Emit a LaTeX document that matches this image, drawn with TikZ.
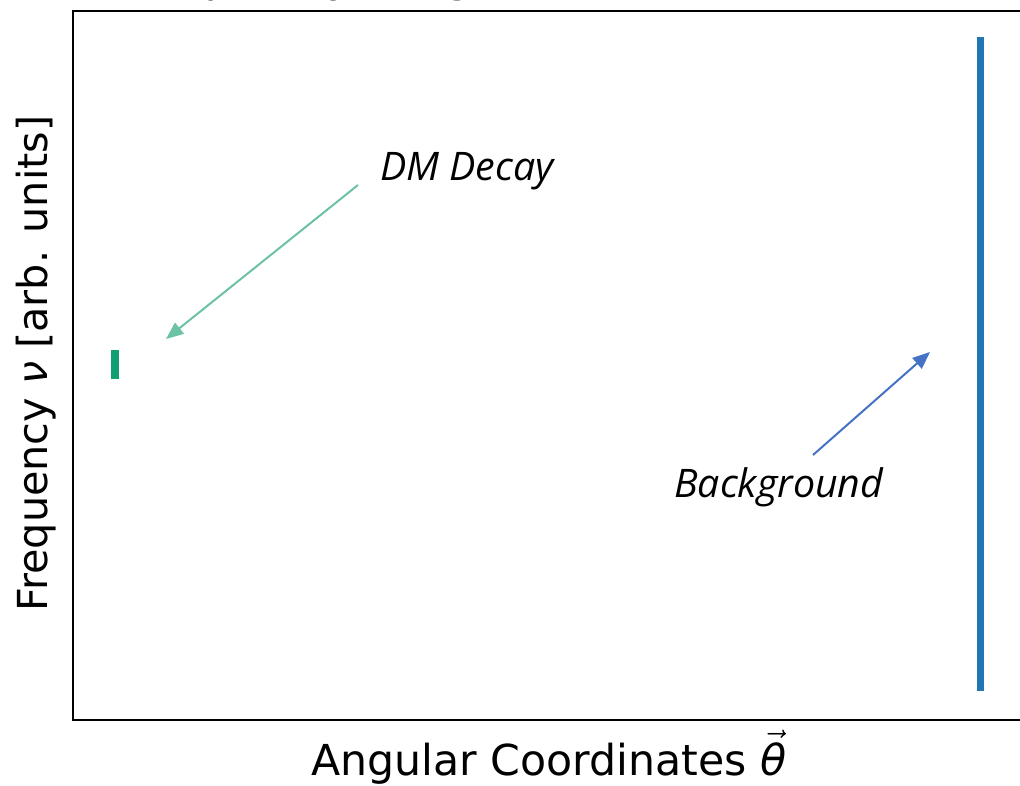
\RequirePackage{fix-cm}
\documentclass[tikz,border=0pt]{standalone}
\usepackage[no-math]{fontspec}
\setmainfont{DejaVu Sans}
\newfontfamily\notefont{Open Sans}
\usetikzlibrary{arrows.meta}

\definecolor{bgblue}{RGB}{31,119,180}
\definecolor{dmgreen}{RGB}{16,158,115}
\definecolor{dmarrow}{RGB}{108,194,164}
\definecolor{bgarrow}{RGB}{68,114,196}

\tikzset{
  axislabel/.style={inner sep=0pt, font=\fontsize{31}{37}\selectfont},
  note/.style={inner sep=0pt, font=\fontsize{29.5}{35}\selectfont\notefont\itshape},
  pointer/.style={line width=1.5, -{Triangle[length=13,width=10.5]}},
}

\begin{document}
\begin{tikzpicture}[x=0.75pt,y=0.75pt,yscale=-1,xscale=1]
    \useasboundingbox (0,0) rectangle (1020,785);

    %Shape: Axes frame (right spine lies just past the page edge)
    \draw [line width=1.2] (73,11) rectangle (1025,720);
    % Text Node: title, only its descenders reach below the page top
    \node (title) [anchor=base west, inner sep=0pt, font=\fontsize{34}{40}\selectfont] at (120,-8.5) {Frequency Diagram};

    %Shape: DM line
    \draw [dmgreen, line width=6] (115,350) -- (115,379);
    %Shape: Background line
    \draw [bgblue, line width=5.25] (980.5,37) -- (980.5,691);

    % Text Node
    \node (dm) [note, anchor=base west] at (380,180) {DM Decay};
    % Text Node
    \node (bg) [note, anchor=base west] at (674,497) {Background};

    \coordinate (dmtail) at (358,185);
    \coordinate (dmtip) at (166,339);
    \coordinate (bgtail) at (813,455);
    \coordinate (bgtip) at (930,352);
    \draw [pointer, dmarrow] (dmtail) -- (dmtip);
    \draw [pointer, bgarrow] (bgtail) -- (bgtip);

    % Text Node
    \node (xlabel) [axislabel, anchor=base, font=\fontsize{32}{38}\selectfont] at (549,775) {Angular Coordinates $\vec{\hbox{\itshape θ}}$};
    % Text Node
    \node (ylabel) [axislabel, rotate=90, anchor=base] at (47,363.5) {Frequency {\itshape ν} [arb. units]};
\end{tikzpicture}
\end{document}
